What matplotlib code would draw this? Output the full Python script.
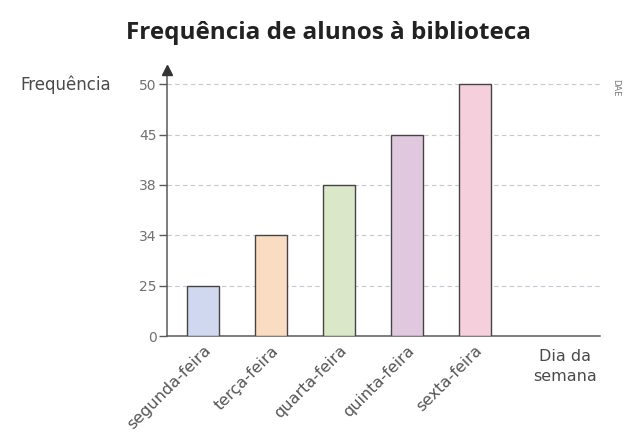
"""Bar chart: frequencia de alunos a biblioteca por dia da semana."""

import matplotlib

matplotlib.use("Agg")
import matplotlib.pyplot as plt
import numpy as np


DAYS = ["segunda-feira", "terça-feira", "quarta-feira", "quinta-feira", "sexta-feira"]
STUDENTS = [25, 34, 38, 45, 50]
Y_TICKS = [0, 25, 34, 38, 45, 50]
BAR_COLORS = ["#cfd8ef", "#f9dcc1", "#dae7c8", "#e0c9df", "#f6cfdc"]

# the printed axis spaces its ticks evenly, not linearly; extend past 50 for the arrow
SCALE_VALUES = np.array(Y_TICKS + [60], dtype=float)
SCALE_STEPS = np.arange(len(SCALE_VALUES), dtype=float)


def forward(v):
    return np.interp(v, SCALE_VALUES, SCALE_STEPS)


def inverse(s):
    return np.interp(s, SCALE_STEPS, SCALE_VALUES)


TEXT = "#4a4a4a"
AXIS = "#5a5a5a"

fig = plt.figure(figsize=(6.24, 4.32), dpi=100)
ax = fig.add_axes([0.2676, 0.2222, 0.6939, 0.6157])

ax.set_yscale("function", functions=(forward, inverse))
x = np.arange(len(DAYS))
ax.bar(x, STUDENTS, width=0.46, color=BAR_COLORS, edgecolor="#444444", linewidth=1.0, zorder=3)

ax.set_xlim(-0.53, 5.84)
ax.set_ylim(0, 52.8)
ax.set_yticks(Y_TICKS)
ax.set_yticklabels([str(v) for v in Y_TICKS])
ax.yaxis.set_minor_locator(matplotlib.ticker.NullLocator())
ax.set_xticks(x)
ax.set_xticklabels(DAYS, rotation=45, ha="right", va="top", rotation_mode="anchor")

ax.tick_params(axis="y", length=6, width=1.0, color=AXIS, pad=1.5, labelsize=10, labelcolor="#707070")
ax.tick_params(axis="x", length=0, pad=5, labelsize=11.5, labelcolor="#555555")

ax.yaxis.grid(True, linestyle=(0, (4, 3)), color="#c4c8d4", linewidth=0.8, zorder=0)
ax.set_axisbelow(True)

for side in ("top", "right"):
    ax.spines[side].set_visible(False)
for side in ("left", "bottom"):
    ax.spines[side].set_color(AXIS)
    ax.spines[side].set_linewidth(1.1)
ax.plot(0, 1, marker="^", markersize=7, color="#333333", transform=ax.transAxes, clip_on=False, zorder=5)

fig.text(0.526, 0.924, "Frequência de alunos à biblioteca", ha="center", va="center",
         fontsize=17.5, fontweight="bold", family="Open Sans", color="#222222")
fig.text(0.032, 0.804, "Frequência", ha="left", va="center", fontsize=12, color=TEXT)
fig.text(0.906, 0.151, "Dia da\nsemana", ha="center", va="center", fontsize=11.5,
         color=TEXT, linespacing=1.45)
fig.text(0.986, 0.796, "DAE", ha="center", va="center", fontsize=6, rotation=270, color="#777777")

fig.savefig("out.png", dpi=100)
